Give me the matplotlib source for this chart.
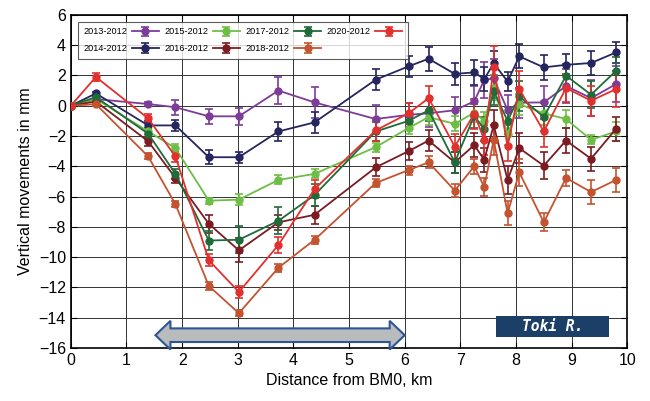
import matplotlib
matplotlib.use("Agg")
import matplotlib.pyplot as plt
from matplotlib.patches import Rectangle, Polygon

plt.rcParams['font.family'] = ['Liberation Sans', 'DejaVu Sans']

x_km = [0, 0.45, 1.39, 1.88, 2.48, 3.02, 3.73, 4.38, 5.48, 6.07, 6.43, 6.9, 7.25, 7.43, 7.6, 7.85, 8.06, 8.5, 8.9, 9.35, 9.8]

labels = ["2013-2012", "2014-2012", "2015-2012", "2016-2012", "2017-2012", "2018-2012", "2020-2012"]
colors = ["#7D3C98", "#25255F", "#6DBE45", "#7B1C22", "#1F6B3A", "#C4532F", "#E1302E"]

v2013 = [0, 0.44, 0.11, -0.1, -0.7, -0.7, 1.0, 0.22, -0.88, -0.6, -0.5, -0.3, 0.29, 1.7, 1.8, -0.3, 0.2, 0.22, 1.3, 0.5, 1.43]
v2014 = [0, 0.81, -1.3, -1.3, -3.4, -3.4, -1.7, -1.1, 1.72, 2.6, 3.1, 2.1, 2.2, 1.76, 2.8, 1.6, 3.26, 2.53, 2.7, 2.82, 3.52]
v2015 = [0, 0.45, -1.7, -2.8, -6.27, -6.2, -4.9, -4.5, -2.73, -1.47, -0.75, -1.2, -0.45, -1.0, 1.2, -1.9, 0.1, -0.5, -0.88, -2.25, -1.7]
v2016 = [0, 0.28, -2.35, -4.77, -7.8, -9.55, -7.7, -7.2, -4.07, -3.0, -2.3, -3.74, -2.6, -3.57, -1.3, -4.9, -2.8, -3.96, -2.3, -3.5, -1.52]
v2017 = [0, 0.57, -1.85, -4.5, -8.9, -8.85, -7.6, -5.9, -1.7, -1.0, -0.3, -3.74, -0.66, -1.55, 0.95, -1.0, 0.62, -0.75, 1.98, 0.73, 2.31]
v2018 = [0, 0.1, -3.35, -6.5, -11.9, -13.7, -10.7, -8.85, -5.1, -4.25, -3.74, -5.6, -4.0, -5.37, -2.25, -7.1, -4.4, -7.7, -4.77, -5.7, -4.9]
v2020 = [0, 1.9, -0.84, -3.35, -10.2, -12.3, -9.2, -5.5, -1.63, -0.5, 0.5, -2.7, -0.53, -2.25, 2.53, -2.68, 1.1, -1.7, 1.17, 0.33, 1.1]

e2013 = [0, 0.1, 0.15, 0.5, 0.5, 0.55, 0.9, 1.0, 0.9, 0.8, 0.9, 0.9, 1.0, 1.2, 1.3, 1.0, 1.0, 1.1, 1.1, 1.2, 1.2]
e2014 = [0, 0.1, 0.3, 0.35, 0.45, 0.35, 0.6, 0.7, 0.7, 0.7, 0.8, 0.75, 0.8, 0.8, 0.8, 0.6, 0.8, 0.8, 0.7, 0.8, 0.7]
e2015 = [0, 0.1, 0.2, 0.25, 0.2, 0.35, 0.3, 0.3, 0.3, 0.4, 0.5, 0.5, 0.6, 0.6, 0.8, 0.7, 0.7, 0.8, 0.6, 0.3, 0.6]
e2016 = [0, 0.1, 0.3, 0.35, 0.6, 0.8, 0.5, 0.6, 0.6, 0.6, 0.7, 0.7, 0.8, 0.8, 1.0, 0.9, 1.0, 0.9, 0.8, 0.8, 0.8]
e2017 = [0, 0.1, 0.35, 0.35, 0.6, 0.9, 0.9, 0.7, 0.6, 0.6, 0.7, 0.7, 0.8, 0.8, 0.9, 0.9, 1.0, 0.9, 0.8, 0.9, 0.9]
e2018 = [0, 0.15, 0.2, 0.2, 0.25, 0.2, 0.25, 0.25, 0.25, 0.3, 0.4, 0.4, 0.5, 0.6, 1.0, 0.8, 0.9, 0.6, 0.5, 0.8, 0.8]
e2020 = [0, 0.25, 0.3, 0.35, 0.4, 0.4, 0.5, 0.6, 0.7, 0.7, 0.8, 0.8, 1.0, 1.0, 1.4, 1.0, 1.2, 1.0, 0.9, 1.0, 1.2]

values = [v2013, v2014, v2015, v2016, v2017, v2018, v2020]
errors = [e2013, e2014, e2015, e2016, e2017, e2018, e2020]

x_ticks = list(range(0, 11))
y_ticks = list(range(-16, 7, 2))

fig = plt.figure(figsize=(6.5, 4.01), dpi=100)
ax = fig.add_axes([0.109, 0.132, 0.856, 0.831])

for lab, col, v, e in zip(labels, colors, values, errors):
    ax.errorbar(x_km, v, yerr=e, color=col, marker="o", markersize=5,
                lw=1.3, elinewidth=1.2, capsize=3, capthick=1.2, label=lab, zorder=3)

ax.set_xlim(0, 10)
ax.set_ylim(-16, 6)
ax.set_xticks(x_ticks)
ax.set_yticks(y_ticks)
ax.grid(True, color="#333333", lw=0.7)
ax.set_axisbelow(True)
ax.tick_params(direction="in", top=True, right=True, labelsize=11.5, length=4)
for s in ax.spines.values():
    s.set_linewidth(1.2)
ax.set_xlabel("Distance from BM0, km", fontsize=11.5)
ax.set_ylabel("Vertical movements in mm", fontsize=11.5)

# Double-headed arrow
cy = -15.15
body_h = 0.45
head_h = 0.95
xl, xr = 1.52, 6.0
hl = 0.27
pts = [(xl, cy), (xl + hl, cy + head_h), (xl + hl, cy + body_h), (xr - hl, cy + body_h),
       (xr - hl, cy + head_h), (xr, cy), (xr - hl, cy - head_h), (xr - hl, cy - body_h),
       (xl + hl, cy - body_h), (xl + hl, cy - head_h)]
ax.add_patch(Polygon(pts, closed=True, facecolor="#B9BCBC", edgecolor="#2F5597",
                     lw=1.5, zorder=4, clip_on=False))

# Toki R. label
ax.add_patch(Rectangle((7.64, -15.3), 2.04, 1.42, facecolor="#1B3F66", edgecolor="none", zorder=4))
ax.text(8.66, -14.6, "Toki R.", color="white", fontsize=10.5, fontstyle="italic",
        fontweight="bold", family="DejaVu Sans Mono", ha="center", va="center", zorder=5)

leg = ax.legend(ncol=4, loc="upper left", bbox_to_anchor=(0.013, 0.979), markerfirst=False,
                fontsize=6.6, frameon=True, fancybox=False, edgecolor="#333333",
                handlelength=3.0, columnspacing=0.6, handletextpad=0.45, borderpad=0.6,
                labelspacing=0.85, borderaxespad=0)
leg.get_frame().set_linewidth(0.8)

fig.savefig("out.png", dpi=100)
